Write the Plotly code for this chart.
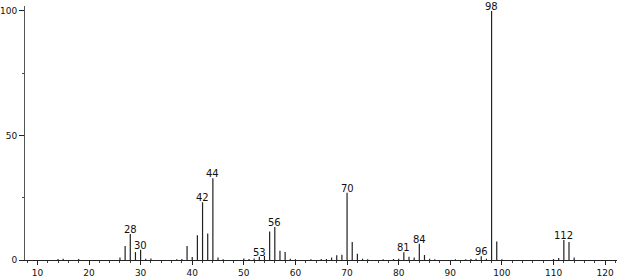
import plotly.graph_objects as go

mz = [14, 15, 18, 26, 27, 28, 29, 30, 31, 32, 37, 38, 39, 40, 41, 42, 43, 44, 45, 46,
      50, 51, 52, 53, 54, 55, 56, 57, 58, 59, 60, 63, 65, 66, 67, 68, 69, 70, 71, 72,
      73, 74, 77, 79, 80, 81, 82, 83, 84, 85, 86, 87, 91, 93, 94, 95, 96, 97, 98, 99,
      100, 110, 111, 112, 113, 114]
intensity = [0.4, 0.5, 0.4, 1.0, 5.6, 10.4, 3.2, 4.1, 0.5, 0.6, 0.3, 0.4, 5.6, 1.2, 9.9, 23.2, 10.6, 32.8, 1.0, 0.3,
             0.6, 0.4, 0.6, 1.3, 1.6, 11.4, 13.3, 3.7, 3.2, 0.5, 0.3, 0.3, 0.4, 0.4, 1.0, 1.9, 2.1, 27.0, 7.2, 2.5,
             0.5, 0.3, 0.3, 0.4, 0.5, 3.1, 1.3, 1.0, 6.5, 2.0, 0.5, 0.3, 0.3, 0.3, 0.4, 0.5, 1.5, 0.5, 100.0, 7.4,
             0.3, 0.4, 0.8, 8.0, 7.2, 1.0]
labeled = [28, 30, 42, 44, 53, 56, 70, 81, 84, 96, 98, 112]

xs, ys = [], []
for m, h in zip(mz, intensity):
    xs += [m, m, None]
    ys += [0, h, None]

fig = go.Figure()
fig.add_trace(go.Scatter(x=xs, y=ys, mode="lines",
                         line=dict(color="#222222", width=1.2),
                         hoverinfo="skip", showlegend=False))

lookup = dict(zip(mz, intensity))
for m in labeled:
    fig.add_annotation(x=m, y=lookup[m], text=str(m), showarrow=False,
                       yanchor="bottom", yshift=-2, borderpad=0,
                       font=dict(size=10, color="#111111", family="DejaVu Sans"))

fig.update_layout(
    width=618, height=277,
    margin=dict(l=25, r=1, t=6, b=17, autoexpand=False),
    plot_bgcolor="white", paper_bgcolor="white",
    font=dict(family="DejaVu Sans", size=9, color="#111111"),
)
fig.update_xaxes(range=[7.6, 122.3], tickvals=list(range(10, 130, 10)),
                 ticks="outside", ticklen=4, tickcolor="#222", showgrid=False,
                 showline=True, linecolor="#222", linewidth=1, zeroline=False,
                 automargin=False,
                 minor=dict(dtick=2, tick0=0, ticks="outside", ticklen=2, tickcolor="#444"),
                 tickfont=dict(size=9))
fig.update_yaxes(range=[0, 102], tickvals=[0, 50, 100], ticktext=["0", "50", "100"],
                 ticks="outside", ticklen=5, tickcolor="#222", showgrid=False,
                 showline=True, linecolor="#555", linewidth=1, zeroline=False,
                 automargin=False,
                 minor=dict(tickvals=[25, 75], ticks="outside", ticklen=2, tickcolor="#444"),
                 tickfont=dict(size=9))

fig.write_html("out.html")
